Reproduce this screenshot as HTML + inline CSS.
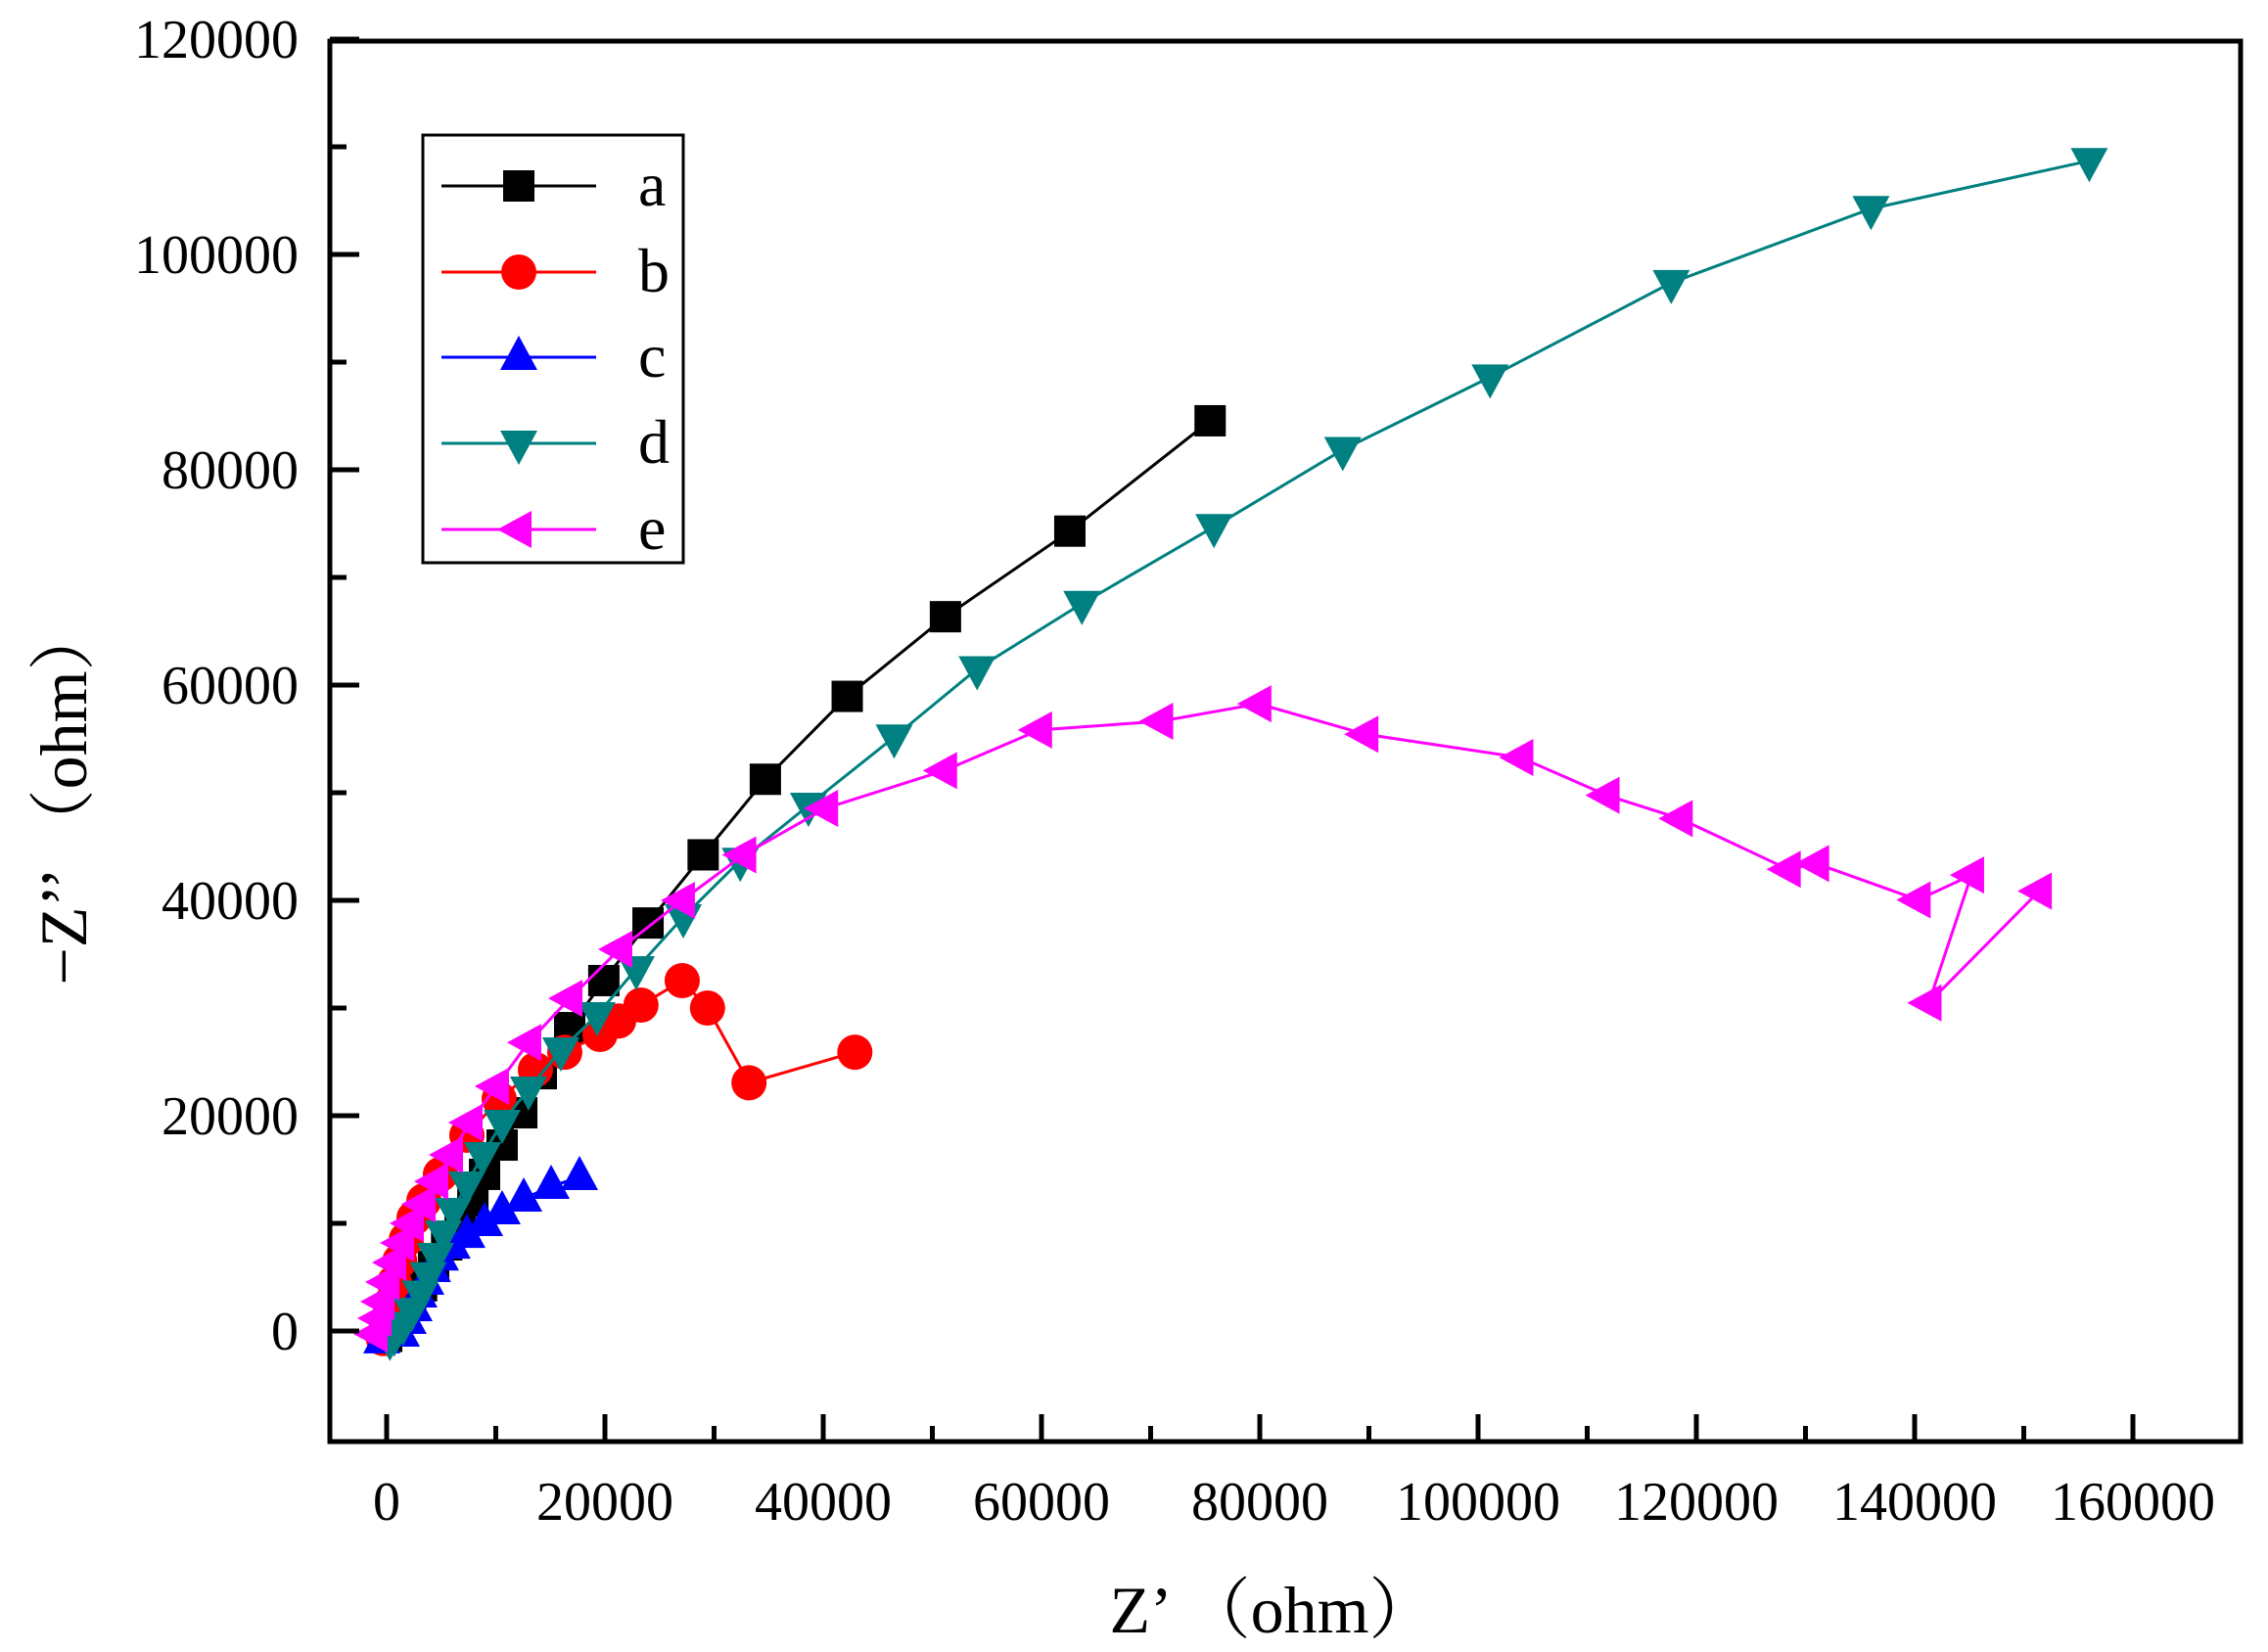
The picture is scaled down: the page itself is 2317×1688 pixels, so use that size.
<!DOCTYPE html>
<html><head><meta charset="utf-8">
<style>
html,body{margin:0;padding:0;background:#fff;}
svg{display:block;}
text{font-family:"Liberation Serif","Noto Serif CJK SC",serif;fill:#000;}
</style></head>
<body>
<svg id="chart" width="2317" height="1688" viewBox="0 0 2317 1688" xmlns="http://www.w3.org/2000/svg">
<g id="marks"></g>
<g id="axes"></g>
<text x="1300" y="1668" font-size="68" text-anchor="middle">Z’ （ohm）</text>
<text transform="translate(88,812) rotate(-90)" font-size="68" text-anchor="middle">−Z’’ （ohm）</text>
<g id="legend"></g>
</svg>
<script>
const xTicks=[0,20000,40000,60000,80000,100000,120000,140000,160000];
const yTicks=[0,20000,40000,60000,80000,100000,120000];
const seriesNames=["a","b","c","d","e"];
const seriesColors=["#000000","#ff0000","#0000ff","#008080","#ff00ff"];
const seriesShapes=["square","circle","up","down","left"];
const aX=[0,500,1300,2200,3200,4300,5500,6730,7900,8970,10580,12380,14170,16770,19900,23950,29000,34700,42200,51200,62600,75450];
const aY=[-500,300,1300,2600,4200,6000,8000,10000,12090,14550,17270,20270,23900,28180,32550,37900,44230,51250,58950,66350,74300,84550];
const bX=[-300,0,300,700,1200,1800,2510,3410,4930,7350,10310,13630,16320,19550,21250,23300,27080,29400,33200,42900];
const bY=[-700,500,2500,4500,6500,8500,10500,12090,14550,18180,21550,24270,25900,27550,28800,30270,32550,30000,23060,25900];
const cX=[-450,1350,1970,2510,2960,3590,4200,4930,6000,7350,8970,10580,12560,15070,17670];
const cY=[-900,-270,910,2090,3360,4550,5730,6800,7900,8900,10000,11090,12270,13450,14270];
const dX=[300,700,1500,2300,3100,3800,4480,5200,6100,7350,8790,10580,13000,15960,19280,22870,27180,32400,38650,46500,54100,63700,75800,87600,101100,117700,136000,156000];
const dY=[-800,-400,600,1900,3500,5200,7000,9090,11180,13640,16360,19360,22450,26090,29360,33640,38450,43700,48820,55160,61500,67570,74700,81860,88600,97370,104250,108700];
const eX=[-1080,-720,-450,0,630,1350,2240,3320,4480,5830,7620,10040,13000,16770,21340,27080,32700,40200,51100,59800,70900,79900,89700,103900,111800,118500,128400,131000,140300,145200,141300,151400];
const eY=[-270,1180,2730,4550,6360,8180,10000,11800,13900,16360,19360,22730,26800,30900,35450,40000,44230,48550,52060,55830,56640,58260,55430,53270,49760,47600,42890,43420,40050,42350,30480,40860];
const allX=[aX,bX,cX,dX,eX], allY=[aY,bY,cY,dY,eY];

const L=337,R=2289,T=42,B=1473;
const X0=395,XS=223/20000,Y0=1360,YS=220/20000;
function sx(v){return X0+v*XS;}
function sy(v){return Y0-v*YS;}
const NS="http://www.w3.org/2000/svg";
function mk(tag,attrs,parent){const e=document.createElementNS(NS,tag);for(const k in attrs)e.setAttribute(k,attrs[k]);parent.appendChild(e);return e;}
function marker(shape,x,y,color,parent,s){
  s=s||1;let e;
  if(shape==="square")e=mk("rect",{x:x-16*s,y:y-16*s,width:32*s,height:32*s,fill:color},parent);
  else if(shape==="circle")e=mk("circle",{cx:x,cy:y,r:18*s,fill:color},parent);
  else if(shape==="up")e=mk("polygon",{points:`${x},${y-22*s} ${x+19*s},${y+13*s} ${x-19*s},${y+13*s}`,fill:color},parent);
  else if(shape==="down")e=mk("polygon",{points:`${x},${y+22*s} ${x+19*s},${y-13*s} ${x-19*s},${y-13*s}`,fill:color},parent);
  else e=mk("polygon",{points:`${x-22*s},${y} ${x+13*s},${y-19*s} ${x+13*s},${y+19*s}`,fill:color},parent);
  return e;
}
const marks=document.getElementById("marks");
for(let i=0;i<5;i++){
  const g=mk("g",{},marks);
  
  
  const pts=allX[i].map((v,j)=>sx(v)+","+sy(allY[i][j])).join(" ");
  const pl=mk("polyline",{points:pts,fill:"none",stroke:seriesColors[i],"stroke-width":3},g);
  
  
  for(let j=0;j<allX[i].length;j++){
    const m=marker(seriesShapes[i],sx(allX[i][j]),sy(allY[i][j]),seriesColors[i],g);
    
    
  }
}
const axes=document.getElementById("axes");
const frame=mk("rect",{x:L,y:T,width:R-L,height:B-T,fill:"none",stroke:"#000","stroke-width":5},axes);


for(const v of xTicks){
  const x=sx(v);
  mk("line",{x1:x,y1:B,x2:x,y2:B-28,stroke:"#000","stroke-width":5},axes);
  const t=mk("text",{x:x,y:1553,"font-size":56,"text-anchor":"middle"},axes);
  t.textContent=String(v);
  
  
  if(v<160000){const xm=sx(v+10000);mk("line",{x1:xm,y1:B,x2:xm,y2:B-16,stroke:"#000","stroke-width":5},axes);}
}
for(const v of yTicks){
  const y=sy(v);
  mk("line",{x1:L,y1:y,x2:L+30,y2:y,stroke:"#000","stroke-width":5},axes);
  const t=mk("text",{x:305,y:y+19,"font-size":56,"text-anchor":"end"},axes);
  t.textContent=String(v);
  
  
  if(v<120000){const ym=sy(v+10000);mk("line",{x1:L,y1:ym,x2:L+17,y2:ym,stroke:"#000","stroke-width":5},axes);}
}
const lg=document.getElementById("legend");
mk("rect",{x:432,y:138,width:266,height:437,fill:"#fff",stroke:"#000","stroke-width":3},lg);
const ly=[190,278,365,453,541];
for(let i=0;i<5;i++){
  const g=mk("g",{},lg);
  
  
  mk("line",{x1:451,y1:ly[i],x2:609,y2:ly[i],stroke:seriesColors[i],"stroke-width":3},g);
  marker(seriesShapes[i],530,ly[i],seriesColors[i],g);
  const t=mk("text",{x:652,y:ly[i]+20,"font-size":64},g);
  t.textContent=seriesNames[i];
}
</script>
</body></html>
